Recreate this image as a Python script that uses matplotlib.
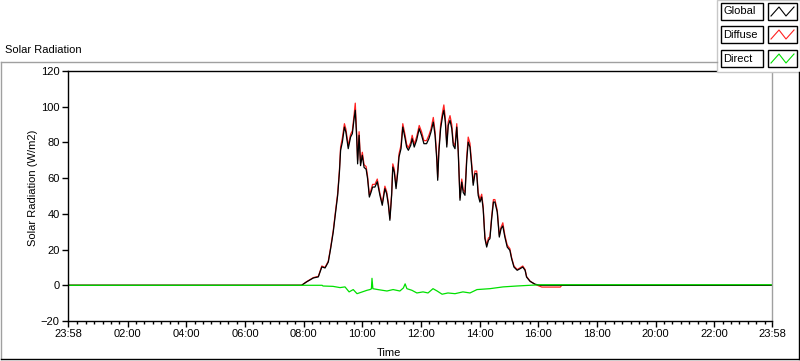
import matplotlib.pyplot as plt
from matplotlib.patches import Rectangle
from matplotlib.lines import Line2D

plt.rcParams['font.family'] = ['Liberation Sans', 'DejaVu Sans']
plt.rcParams['font.size'] = 8

#%% Data (hours of day, W/m2)

hours = [-0.03, 7.93, 8.10, 8.33, 8.50, 8.62, 8.73, 8.84, 8.92, 9.01, 9.09, 9.16,
         9.22, 9.26, 9.32, 9.39, 9.44, 9.52, 9.60, 9.66, 9.72, 9.76, 9.81, 9.84,
         9.89, 9.94, 10.00, 10.06, 10.13, 10.18, 10.24, 10.30, 10.35, 10.43, 10.51,
         10.60, 10.68, 10.77, 10.83, 10.89, 10.94, 11.00, 11.04, 11.09, 11.15, 11.21,
         11.25, 11.32, 11.38, 11.46, 11.51, 11.57, 11.65, 11.70, 11.77, 11.85, 11.94,
         12.02, 12.10, 12.19, 12.27, 12.34, 12.42, 12.48, 12.54, 12.57, 12.61, 12.67,
         12.74, 12.78, 12.83, 12.88, 12.93, 12.99, 13.05, 13.10, 13.16, 13.22, 13.27,
         13.33, 13.39, 13.44, 13.50, 13.56, 13.61, 13.67, 13.73, 13.78, 13.84, 13.90,
         13.95, 14.01, 14.07, 14.12, 14.18, 14.24, 14.30, 14.35, 14.41, 14.47, 14.52,
         14.60, 14.67, 14.73, 14.79, 14.86, 14.94, 15.03, 15.09, 15.17, 15.28, 15.38,
         15.47, 15.55, 15.60, 15.72, 15.89, 16.06, 16.12, 16.75, 16.80, 23.97]

global_rad = [0, 0, 1.9, 4.1, 4.7, 10.3, 9.7, 13, 20.5, 29.9, 41, 50.4,
              63.4, 75.6, 80.2, 88.6, 85.8, 76.5, 83, 84.9, 93.3, 98, 82, 68,
              84, 67, 72.8, 66, 65, 59.7, 49.4, 52.2, 55, 55, 58,
              50.4, 44.8, 54.1, 51.3, 44.8, 36.4, 50.4, 66.2, 63.4, 54.1, 63.4,
              71.8, 76.5, 88.6, 82.1, 77.4, 75.6, 78.4, 82.1, 77.4, 81.2, 87.7,
              84, 79.3, 79.3, 82.1, 85.8, 91.4, 84, 70, 58.8, 74.6, 87.7,
              95.2, 98, 91.4, 77.4, 89.6, 92.4, 87.7, 78.4, 76.5, 88.6, 74.6,
              47.6, 57.8, 52, 50.4, 70, 80.2, 77.4, 66.2, 56, 62.5, 62.5,
              50.4, 46.6, 49.4, 42.9, 26.1, 21.4, 25.2, 26.1, 37.3, 46.6, 46.6,
              41, 27, 31.7, 33.2, 27, 21.4, 19.6, 14.9, 10.2, 8.4, 9.3,
              10.2, 8.4, 4.6, 2.2, 0.6, 0, 0, 0, 0, 0]

diffuse_rad = [0, 0, 2.0, 4.3, 5.0, 10.8, 10.0, 13.5, 21.2, 30.8, 42, 51.5,
               64.5, 77.5, 82.5, 90.5, 87.5, 78, 84.5, 86.5, 95.5, 102, 84, 70,
               86, 68.5, 74.5, 67.5, 66.5, 61, 50.5, 53.5, 56.5, 56.5, 59.5,
               51.5, 46, 55.5, 52.5, 46, 37.5, 51.5, 68, 65, 55.5, 65,
               73.5, 78.5, 90.5, 84, 79, 77, 80, 84, 79, 83, 89.5,
               86, 81, 81, 84, 87.5, 94, 86, 72, 60.5, 76.5, 90,
               97.5, 101, 93.5, 79, 91.5, 95, 90, 80, 78, 90.5, 76,
               49, 59.5, 53.5, 52, 72, 83, 79.5, 68, 57.5, 64, 64,
               52, 48, 51, 44, 27, 22.5, 26.5, 27, 38.5, 48, 48,
               42, 28, 32.5, 35, 28, 22.5, 20.5, 15.5, 10.8, 8.8, 9.8,
               10.8, 8.8, 4.9, 2.3, 0.5, -0.6, -1.0, -1.0, 0, 0]

hours_direct = [-0.03, 8.63, 8.66, 9.00, 9.24, 9.41, 9.55, 9.69, 9.82, 10.00, 10.16,
                10.26, 10.31, 10.33, 10.36, 10.53, 10.84, 11.05, 11.28, 11.40, 11.46,
                11.52, 11.69, 11.86, 12.07, 12.24, 12.41, 12.55, 12.72, 12.92, 13.16,
                13.43, 13.67, 13.91, 14.35, 14.80, 15.27, 15.72, 16.06, 23.97]

direct_rad = [0, 0, -0.4, -0.6, -1.3, -0.9, -3.7, -2.4, -4.7, -3.7, -2.8,
              -2.4, -2.0, 3.9, -1.9, -2.4, -3.2, -2.4, -3.2, -1.5, 0.8,
              -1.9, -2.8, -4.3, -3.7, -4.3, -1.9, -3.2, -5.0, -4.3, -4.7,
              -3.7, -4.3, -2.4, -1.9, -0.9, -0.4, 0, 0.3, 0.3]

x_start = -2 / 60
x_end = 24 - 2 / 60
xtick_pos = [x_start, 2, 4, 6, 8, 10, 12, 14, 16, 18, 20, 22, x_end]
xtick_labels = ["23:58", "02:00", "04:00", "06:00", "08:00", "10:00", "12:00",
                "14:00", "16:00", "18:00", "20:00", "22:00", "23:58"]
yticks = [-20, 0, 20, 40, 60, 80, 100, 120]

#%% Plot

fig = plt.figure(figsize=(8, 3.61), dpi=100)
ax = fig.add_axes([68 / 800, 1 - 321 / 361, 704 / 800, 250 / 361])

ax.plot(hours, diffuse_rad, color="#ff2020", lw=0.9)
ax.plot(hours, global_rad, color="black", lw=0.9)
ax.plot(hours_direct, direct_rad, color="#00e000", lw=0.9)

ax.set_xlim(x_start, x_end)
ax.set_ylim(-20, 120)
ax.set_xticks(xtick_pos)
ax.set_xticklabels(xtick_labels)
minor = [2 + k * 2 / 7 for k in range(-7, 77)]
ax.set_xticks([m for m in minor if x_start < m < x_end and abs(m - round(m / 2) * 2) > 0.01],
              minor=True)
ax.set_yticks(yticks)
ax.tick_params(axis="both", which="major", direction="out", length=4, width=1,
               labelsize=8, pad=2)
ax.tick_params(axis="x", which="minor", direction="out", length=2.5, width=1)

ax.spines["right"].set_color("#a0a0a0")
for s in ["left", "top", "bottom"]:
    ax.spines[s].set_color("black")
for s in ax.spines.values():
    s.set_linewidth(1)

fig.text(5 / 800, 1 - 50 / 361, "Solar Radiation", ha="left", va="center", fontsize=8)
fig.text(33 / 800, 1 - 188 / 361, "Solar Radiation (W/m2)", rotation=90,
         ha="center", va="center", fontsize=8)
fig.text(389 / 800, 1 - 353 / 361, "Time", ha="center", va="center", fontsize=8)

# outer panel frame
fig.add_artist(Line2D([0.5 / 800, 717 / 800], [1 - 62 / 361] * 2, color="#a0a0a0", lw=1))
fig.add_artist(Line2D([0.5 / 800] * 2, [1 - 62 / 361, 1 - 359 / 361], color="#a0a0a0", lw=1))
fig.add_artist(Line2D([0.5 / 800, 799 / 800], [1 - 359 / 361] * 2, color="black", lw=1))
fig.add_artist(Line2D([799 / 800] * 2, [1 - 72 / 361, 1 - 359 / 361], color="black", lw=1))

# legend block
fig.add_artist(Rectangle((717 / 800, 1 - 72 / 361), 83 / 800, 72 / 361,
                         facecolor="white", edgecolor="#c8c8c8", lw=1))
legend_names = ["Global", "Diffuse", "Direct"]
legend_colors = ["black", "#ff2020", "#00e000"]
row_top = [3, 26, 50]
for name, col, top in zip(legend_names, legend_colors, row_top):
    y0 = 1 - (top + 17) / 361
    h = 17 / 361
    fig.add_artist(Rectangle((721 / 800, y0), 42 / 800, h, facecolor="white",
                             edgecolor="black", lw=1))
    fig.text(723 / 800, y0 + h / 2, name, ha="left", va="center", fontsize=8)
    fig.add_artist(Rectangle((768 / 800, y0), 29 / 800, h, facecolor="white",
                             edgecolor="black", lw=1))
    zx = [771, 779, 786, 794]
    zy = [top + 13, top + 4, top + 13, top + 4]
    fig.add_artist(Line2D([v / 800 for v in zx], [1 - v / 361 for v in zy],
                          color=col, lw=0.8))

fig.savefig("out.png", dpi=100)
